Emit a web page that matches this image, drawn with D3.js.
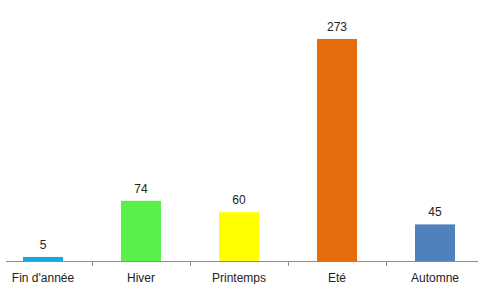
<!DOCTYPE html>
<html><head><meta charset="utf-8">
<script src="https://cdn.jsdelivr.net/npm/d3@7"></script>
<style>body{margin:0;background:#fff;}svg{display:block;}</style>
</head><body>
<script>
const categories = ["Fin d'année", "Hiver", "Printemps", "Eté", "Automne"];
const values = [5, 74, 60, 273, 45];
const colors = ["#17a8e0", "#5af04a", "#ffff00", "#e46c0a", "#4f81bd"];
const yDomain = [0, 300];

const W = 478, H = 284;
const svg = d3.select("body").append("svg").attr("width", W).attr("height", H);
const font = "'Liberation Sans', Arial, sans-serif";

const x = d3.scaleBand().domain(categories).range([-6, 484]).paddingInner(0).paddingOuter(0);
const y = d3.scaleLinear().domain(yDomain).range([261, 17]);
const barW = 40;

// axis line
svg.append("line").attr("x1", 6).attr("x2", W).attr("y1", 261.5).attr("y2", 261.5)
  .attr("stroke", "#8c8c8c").attr("stroke-width", 1);
// ticks between categories
categories.slice(1).forEach(c => {
  const tx = Math.round(x(c)) + 0.5;
  svg.append("line").attr("x1", tx).attr("x2", tx).attr("y1", 261).attr("y2", 266)
    .attr("stroke", "#8c8c8c").attr("stroke-width", 1);
});

svg.selectAll("rect.bar").data(values).join("rect").attr("class", "bar")
  .attr("x", (d, i) => x(categories[i]) + x.bandwidth() / 2 - barW / 2)
  .attr("width", barW)
  .attr("y", d => y(d))
  .attr("height", d => y(0) - y(d))
  .attr("fill", (d, i) => colors[i]);

svg.selectAll("text.val").data(values).join("text").attr("class", "val")
  .attr("x", (d, i) => x(categories[i]) + x.bandwidth() / 2)
  .attr("y", d => y(d) - 8)
  .attr("text-anchor", "middle")
  .attr("font-family", font).attr("font-size", 12).attr("fill", "#222")
  .text(d => d);

svg.selectAll("text.cat").data(categories).join("text").attr("class", "cat")
  .attr("x", d => x(d) + x.bandwidth() / 2)
  .attr("y", 282)
  .attr("text-anchor", "middle")
  .attr("font-family", font).attr("font-size", 12).attr("fill", "#222")
  .text(d => d);
</script>
</body></html>
